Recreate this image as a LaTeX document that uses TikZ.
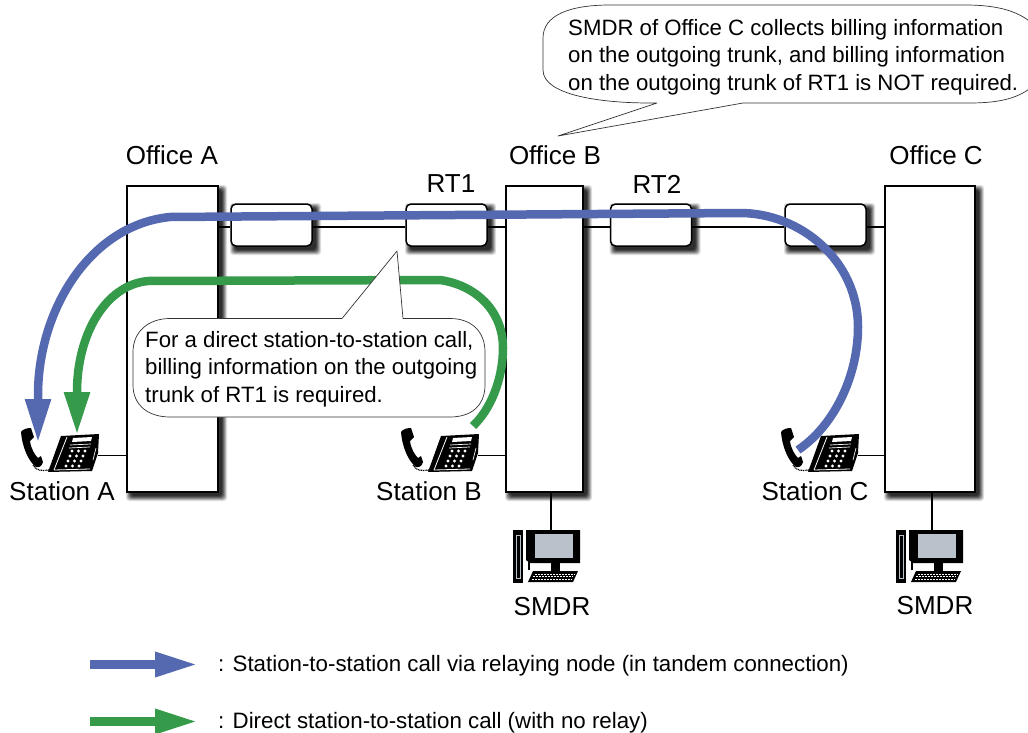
\documentclass[tikz,border=0pt]{standalone}
\usepackage{fontspec}
\setmainfont{Liberation Sans}
\usetikzlibrary{arrows.meta,calc}
\definecolor{callblue}{HTML}{5569B1}
\definecolor{callgreen}{HTML}{359A4A}
\definecolor{screengray}{HTML}{B9C2CB}
\newcommand{\softshadow}[4]{%
  \foreach \e/\g in {5/12,4/28,3/45,2/60,1/72,0/82}{%
    \fill[black!\g,rounded corners=3pt] ({#1+4-\e},{#2+4-\e}) rectangle ({#3+4+\e},{#4+4+\e});%
  }%
}
\tikzset{
  office/.style={draw=black,line width=1.8pt,fill=white,inner sep=0pt},
  relaybox/.style={draw=black,line width=1.5pt,fill=white,rounded corners=5pt,inner sep=0pt},
  trunk/.style={line width=1.3pt,black},
  lbl/.style={font=\fontsize{26}{28}\selectfont,inner sep=0pt,anchor=center},
  notetext/.style={font=\fontsize{22.2}{27.4}\selectfont,align=left,inner sep=0pt,anchor=north west},
  legendtext/.style={font=\fontsize{22.3}{27}\selectfont,inner sep=0pt,anchor=west},
  balloon/.style={draw=black!80,line width=.7pt,fill=white,line join=round},
  bluecall/.style={line width=8.5pt,callblue},
  greencall/.style={line width=8.5pt,callgreen},
  legendarrow/.style={line width=9pt,-{Triangle[length=43pt,width=23pt]}},
  phone/.pic={
    % handset
    \fill[black] (21,432) .. controls (23,429) and (27,428) .. (31,428)
      -- (34,437) -- (30,441) .. controls (31,449) and (35,455) .. (38,458)
      -- (41,456) -- (43,462) .. controls (42,466) and (39,468) .. (36,467)
      .. controls (28,461) and (22,446) .. (21,432) -- cycle;
    % cord
    \draw[black,line width=1.2pt,dash pattern=on 1pt off .7pt] (33,465) .. controls (36,471) and (42,471) .. (49,470);
    % body
    \fill[black] (48,472) -- (61,436) -- (99,434) -- (98,453) -- (92,471) -- cycle;
    \draw[white,line width=.8pt] (54,470) -- (67,437);
    \draw[white,line width=.8pt] (54,470) -- (90,469);
    \fill[white] (73,438) -- (92,437) -- (91,441) -- (72,442) -- cycle;
    \draw[white,line width=.7pt] (70,445) -- (91,444);
    \draw[white,line width=.7pt] (69,448) -- (90,447);
    \draw[white,line width=.7pt] (96,448) -- (93,460);
    \foreach \r/\dx in {0/0,1/-2,2/-4,3/-6}{
      \foreach \c in {0,1,2}{
        \fill[white] ({72+\dx+\c*6.5},{451+\r*5}) circle[radius=1.6];
      }
    }
    \coordinate (-port) at (98,455.5);
  },
  pccomp/.pic={
    \fill[black] (513,530) -- (523,530) -- (523,583) -- (513,583) -- cycle;
    \draw[screengray,line width=1pt] (516,535) rectangle (520,578);
    \fill[black] (526,530) -- (580,530) -- (580,563) -- (530,563) -- (526,560) -- cycle;
    \fill[black] (528,530) -- (530,530) -- (530,570) -- (528,570) -- cycle;
    \fill[screengray] (535,534) rectangle (573,558);
    \fill[black] (551,563) rectangle (560,572);
    \fill[black] (533,571) -- (578,571) -- (573,582) -- (528,582) -- cycle;
    \foreach \r in {0,1,2}{
      \draw[white,line width=.8pt,dash pattern=on 2pt off 1pt] ({535-\r*1.7},{574+\r*2.7}) -- ({575-\r*1.7},{574+\r*2.7});
    }
  }
}
\begin{document}
\begin{tikzpicture}[x=1pt,y=-1pt]
\useasboundingbox (0,0) rectangle (1028,733);

% shadows
\softshadow{127}{186}{218}{492}
\softshadow{506}{186}{583}{492}
\softshadow{885}{186}{975}{492}
\softshadow{231}{204}{312}{246}
\softshadow{406}{204}{487}{246}
\softshadow{610.5}{204}{691.5}{246}
\softshadow{785}{204}{866}{246}

% offices
\node[office,minimum width=91pt,minimum height=306pt] (officeA) at (172.5,339) {};
\node[office,minimum width=77pt,minimum height=306pt] (officeB) at (544.5,339) {};
\node[office,minimum width=90pt,minimum height=306pt] (officeC) at (930,339) {};

% relay boxes
\node[relaybox,minimum width=81pt,minimum height=42pt] (relayA) at (271.5,225) {};
\node[relaybox,minimum width=81pt,minimum height=42pt] (relayB) at (446.5,225) {};
\node[relaybox,minimum width=81pt,minimum height=42pt] (relayC) at (651,225) {};
\node[relaybox,minimum width=81pt,minimum height=42pt] (relayD) at (825.5,225) {};

% trunks
\draw[trunk] ([yshift=-2pt]officeA.east|-relayA.west) -- ([yshift=-2pt]relayA.west);
\draw[trunk] ([yshift=-2pt]relayA.east) -- ([yshift=-2pt]relayB.west);
\draw[trunk] ([yshift=-2pt]relayB.east) -- ([yshift=-2pt]officeB.west|-relayB.east);
\draw[trunk] ([yshift=-2pt]officeB.east|-relayC.west) -- ([yshift=-2pt]relayC.west);
\draw[trunk] ([yshift=-2pt]relayC.east) -- ([yshift=-2pt]relayD.west);
\draw[trunk] ([yshift=-2pt]relayD.east) -- ([yshift=-2pt]officeC.west|-relayD.east);

% phones
\pic (phoneA) at (0,0) {phone};
\pic (phoneB) at (380,0) {phone};
\pic (phoneC) at (760,0) {phone};
\draw[trunk] (phoneA-port) -- (officeA.west|-phoneA-port);
\draw[trunk] (phoneB-port) -- (officeB.west|-phoneB-port);
\draw[trunk] (phoneC-port) -- (officeC.west|-phoneC-port);

% computers
\pic (pcB) at (0,0) {pccomp};
\pic (pcC) at (383,0) {pccomp};
\coordinate (pcBtop) at (551,530);
\coordinate (pcCtop) at (932,530);
\draw[trunk,line width=1.8pt] (pcBtop) -- (pcBtop|-officeB.south);
\draw[trunk,line width=1.8pt] (pcCtop) -- (pcCtop|-officeC.south);

% labels
\node[lbl] (lblOfficeA) at (172,155) {Office A};
\node[lbl] (lblOfficeB) at (555,155) {Office B};
\node[lbl] (lblOfficeC) at (936,155) {Office C};
\node[lbl] (lblRTone) at (451,184) {RT1};
\node[lbl] (lblRTtwo) at (657,184) {RT2};
\node[lbl] (lblStationA) at (62,491) {Station A};
\node[lbl] (lblStationB) at (429,491) {Station B};
\node[lbl] (lblStationC) at (815,491) {Station C};
\node[lbl] (lblSMDRB) at (552,607) {SMDR};
\node[lbl] (lblSMDRC) at (935,606) {SMDR};

% call paths
\coordinate (blueStart) at (798,450);
\coordinate (blueEnd) at (38,443);
\coordinate (greenStart) at (473,426);
\coordinate (greenEnd) at (77,435);
\draw[bluecall,-{Triangle[length=44pt,width=24pt]}] (blueStart)
  .. controls (835,425) and (858,375) .. (858,327)
  .. controls (858,260) and (800,213) .. (740,213)
  -- (170,217)
  .. controls (90,225) and (38,310) .. (38,395) -- (blueEnd);
\draw[greencall,-{Triangle[length=43pt,width=24pt]}] (greenStart)
  .. controls (490,410) and (503,380) .. (503,348)
  .. controls (503,310) and (475,285) .. (440,280)
  -- (148,281)
  .. controls (105,285) and (77,335) .. (77,392) -- (greenEnd);

% callouts
\draw[balloon] (397,251) -- (403,318.5) -- (450,318.5)
  .. controls (472,318.5) and (485,332) .. (485,352) -- (485,385)
  .. controls (485,405) and (472,417) .. (450,417) -- (170,417)
  .. controls (148,417) and (133,405) .. (133,385) -- (133,352)
  .. controls (133,332) and (148,318.5) .. (170,318.5) -- (342,318.5) -- cycle;
\node[notetext] (noteRT) at (145,331) {For a direct station-to-station call,\\billing information on the outgoing\\trunk of RT1 is required.};

\draw[balloon] (558,136) -- (657,103) -- (650,103)
  .. controls (600,103) and (543,95) .. (543,70) -- (543,38)
  .. controls (543,15) and (570,5) .. (610,5) -- (965,5)
  .. controls (1000,5) and (1020,12) .. (1034,25) -- (1034,85)
  .. controls (1020,98) and (1000,103) .. (970,103) -- (743,103) -- cycle;
\node[notetext] (noteC) at (568,19) {SMDR of Office C collects billing information\\on the outgoing trunk, and billing information\\on the outgoing trunk of RT1 is NOT required.};

% legend
\coordinate (legBlueA) at (90,664.5);
\coordinate (legBlueB) at (198,664.5);
\coordinate (legGreenA) at (90,721.5);
\coordinate (legGreenB) at (198,721.5);
\draw[legendarrow,callblue] (legBlueA) -- (legBlueB);
\draw[legendarrow,callgreen] (legGreenA) -- (legGreenB);
\node[legendtext] (legBlueText) at (218,666) {: Station-to-station call via relaying node (in tandem connection)};
\node[legendtext] (legGreenText) at (218,723) {: Direct station-to-station call (with no relay)};
\end{tikzpicture}
\end{document}
